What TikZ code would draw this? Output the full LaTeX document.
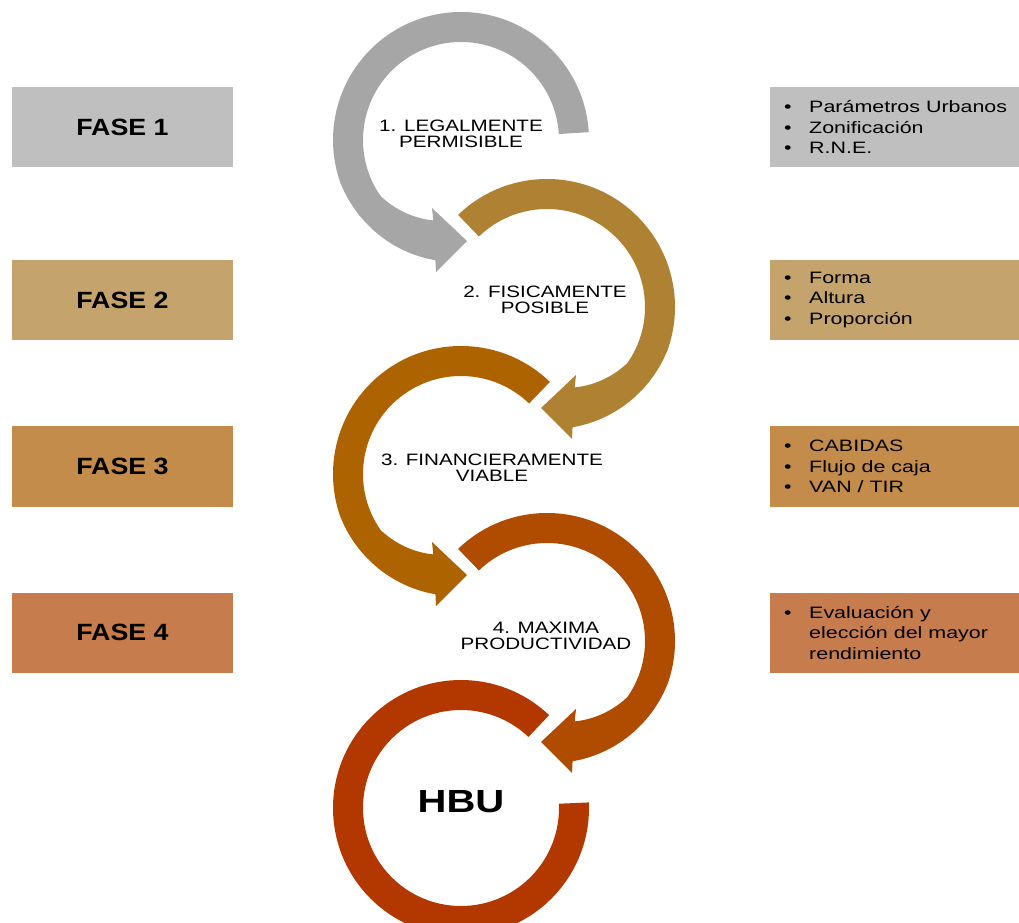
\documentclass[tikz,border=0pt]{standalone}
\usepackage{fontspec}
\setmainfont{Liberation Sans}
\newfontfamily\widefont[FakeStretch=1.25]{Liberation Sans}
\newfontfamily\notefont[FakeStretch=1.3]{Liberation Sans}
\newfontfamily\phasefont[FakeStretch=1.14]{Liberation Sans}

\definecolor{greyring}{HTML}{A6A6A6}
\definecolor{greybox}{HTML}{BFBFBF}
\definecolor{goldring}{HTML}{AE8232}
\definecolor{goldbox}{HTML}{C4A46C}
\definecolor{ochrering}{HTML}{AD6400}
\definecolor{ochrebox}{HTML}{C48C4A}
\definecolor{rustring}{HTML}{B04C00}
\definecolor{rustbox}{HTML}{C67C4C}
\definecolor{redring}{HTML}{B33800}

% curved band ending in an arrowhead, drawn around the current origin
% #1 colour, #2 start angle of the band
\newcommand{\bandarrow}[2]{%
  \fill[#1] (#2:128) arc[start angle=#2, end angle=200, radius=128]
    -- plot[domain=200:258, samples=15, variable=\t] (\t:{128-5*(\t-200)/58})
    -- (-25,-132) -- (6,-101) -- (-29,-68)
    -- plot[domain=251:215, samples=15, variable=\t] (\t:{85+13*(251-\t)/36})
    arc[start angle=215, end angle=#2, radius=98] -- cycle;}
\newcommand{\bl}{\makebox[25pt][l]{•}}

\tikzset{
  phasebox/.style={fill=#1, minimum width=221, minimum height=80, inner sep=0,
    font=\phasefont\bfseries\fontsize{23.5}{28}\selectfont},
  notebox/.style={fill=#1, minimum width=250, minimum height=80, inner sep=0},
  notetext/.style={anchor=west, inner sep=0, align=left,
    font=\notefont\fontsize{16.5}{20.5}\selectfont},
  steplabel/.style={align=center, inner sep=0,
    font=\widefont\fontsize{16.5}{16}\selectfont},
}

\begin{document}
\begin{tikzpicture}[x=1pt,y=1pt]
\useasboundingbox (0,0) rectangle (1019,922);
\clip (0,0) rectangle (1019,922);
\fill[white] (0,0) rectangle (1019,922);

% phase boxes on the left
\node[phasebox=greybox]  (f1) at (122.5,795)   {FASE 1};
\node[phasebox=goldbox]  (f2) at (122.5,622)   {FASE 2};
\node[phasebox=ochrebox] (f3) at (122.5,455.5) {FASE 3};
\node[phasebox=rustbox]  (f4) at (122.5,289.3) {FASE 4};

% note boxes on the right
\node[notebox=greybox]  (n1) at (895,795)   {};
\node[notebox=goldbox]  (n2) at (895,622)   {};
\node[notebox=ochrebox] (n3) at (895,455.5) {};
\node[notebox=rustbox]  (n4) at (895,289.3) {};

\node[notetext] (t1) at (784,795)
  {\bl Parámetros Urbanos\\\bl Zonificación\\\bl R.N.E.};
\node[notetext] (t2) at (784,622)
  {\bl Forma\\\bl Altura\\\bl Proporción};
\node[notetext] (t3) at (784,455.5)
  {\bl CABIDAS\\\bl Flujo de caja\\\bl VAN / TIR};
\node[notetext] (t4) at (784,289.3)
  {\bl Evaluación y\\\hspace*{25pt}elección del mayor\\\hspace*{25pt}rendimiento};

% chain of circular arrows
\begin{scope}[shift={(461,782)}]
  \bandarrow{greyring}{3.5}
\end{scope}
\begin{scope}[shift={(547,615)}, xscale=-1]
  \bandarrow{goldring}{46}
\end{scope}
\begin{scope}[shift={(461,448)}]
  \bandarrow{ochrering}{46}
\end{scope}
\begin{scope}[shift={(547,281)}, xscale=-1]
  \bandarrow{rustring}{46}
\end{scope}
\begin{scope}[shift={(461,114)}]
  \fill[redring] (46.5:128) arc[start angle=46.5, end angle=362.5, radius=128]
    -- (362.5:98) arc[start angle=362.5, end angle=46.5, radius=98] -- cycle;
\end{scope}

% step labels
\node[steplabel] (s1) at (461,788) {1. LEGALMENTE\\PERMISIBLE};
\node[steplabel] (s2) at (545,622) {2. FISICAMENTE\\POSIBLE};
\node[steplabel] (s3) at (492,454) {3. FINANCIERAMENTE\\VIABLE};
\node[steplabel] (s4) at (546,286) {4. MAXIMA\\PRODUCTIVIDAD};
\node[inner sep=0, font=\widefont\bfseries\fontsize{32}{36}\selectfont] (hbu) at (461,120.5) {HBU};
\end{tikzpicture}
\end{document}
